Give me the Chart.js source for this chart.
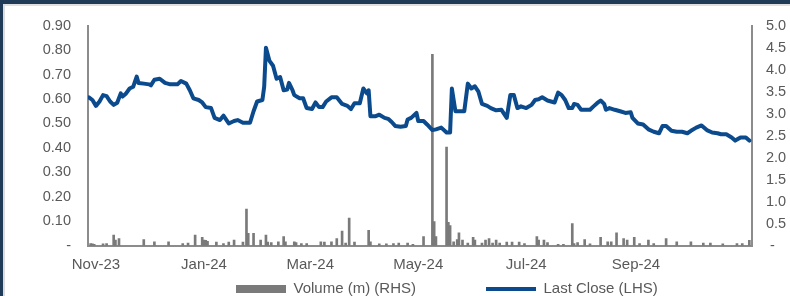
<!DOCTYPE html>
<html>
<head>
<meta charset="utf-8">
<script src="https://cdn.jsdelivr.net/npm/chart.js@4.4.1/dist/chart.umd.min.js"></script>
<style>
  html, body { margin: 0; padding: 0; background: #fff; overflow: hidden; }
  #frame { position: relative; width: 790px; height: 296px; background: #fff; }
  .edge { position: absolute; }
  .navy-top { left: 0; top: 0; right: 0; height: 4px; background: #203b58; }
  .navy-left { left: 0; top: 0; bottom: 0; width: 3px; background: #203b58; }
  .grey-top { left: 3px; top: 4px; right: 0; height: 2px; background: #e0e0e0; }
  .grey-left { left: 3px; top: 4px; bottom: 0; width: 2px; background: #dcdcdc; }
  #chart { position: absolute; left: 0; top: 0; }
</style>
</head>
<body>
<div id="frame">
  <div class="edge grey-top"></div>
  <div class="edge grey-left"></div>
  <div class="edge navy-top"></div>
  <div class="edge navy-left"></div>
  <canvas id="chart" width="790" height="296"></canvas>
</div>
<script>
// Last close (LHS, A$)
const priceDates = [
  '2023-10-28','2023-10-30','2023-11-01','2023-11-03','2023-11-05','2023-11-07','2023-11-09','2023-11-11',
  '2023-11-13','2023-11-15','2023-11-16','2023-11-18','2023-11-20','2023-11-22','2023-11-24','2023-11-25',
  '2023-11-28','2023-12-01','2023-12-02','2023-12-04','2023-12-07','2023-12-10','2023-12-13','2023-12-17',
  '2023-12-19','2023-12-22','2023-12-24','2023-12-26','2023-12-29','2023-12-31','2024-01-02','2024-01-05',
  '2024-01-07','2024-01-10','2024-01-12','2024-01-15','2024-01-18','2024-01-20','2024-01-23','2024-01-27',
  '2024-01-29','2024-01-31','2024-02-03','2024-02-04','2024-02-05','2024-02-07','2024-02-09','2024-02-11',
  '2024-02-13','2024-02-15','2024-02-17','2024-02-18','2024-02-20','2024-02-21','2024-02-24','2024-02-26',
  '2024-02-28','2024-03-02','2024-03-04','2024-03-06','2024-03-08','2024-03-10','2024-03-13','2024-03-16',
  '2024-03-19','2024-03-22','2024-03-24','2024-03-26','2024-03-29','2024-03-31','2024-04-02','2024-04-03',
  '2024-04-04','2024-04-07','2024-04-09','2024-04-12','2024-04-14','2024-04-16','2024-04-18','2024-04-21',
  '2024-04-24','2024-04-25','2024-04-27','2024-04-30','2024-05-01','2024-05-04','2024-05-06','2024-05-09',
  '2024-05-11','2024-05-14','2024-05-17','2024-05-19','2024-05-20','2024-05-22','2024-05-25','2024-05-27',
  '2024-05-29','2024-05-31','2024-06-02','2024-06-04','2024-06-06','2024-06-09','2024-06-11','2024-06-14',
  '2024-06-17','2024-06-20','2024-06-22','2024-06-24','2024-06-26','2024-06-28','2024-07-01','2024-07-04',
  '2024-07-06','2024-07-08','2024-07-10','2024-07-13','2024-07-15','2024-07-17','2024-07-19','2024-07-21',
  '2024-07-23','2024-07-25','2024-07-27','2024-07-28','2024-07-30','2024-08-01','2024-08-04','2024-08-06',
  '2024-08-08','2024-08-10','2024-08-12','2024-08-14','2024-08-15','2024-08-17','2024-08-20','2024-08-23',
  '2024-08-26','2024-08-29','2024-08-30','2024-09-02','2024-09-05','2024-09-08','2024-09-11','2024-09-14',
  '2024-09-16','2024-09-18','2024-09-21','2024-09-24','2024-09-27','2024-09-30','2024-10-02','2024-10-05',
  '2024-10-08','2024-10-11','2024-10-14','2024-10-17','2024-10-19','2024-10-22','2024-10-25','2024-10-27',
  '2024-10-30','2024-11-02','2024-11-04'
];
const priceValues = [
  0.607, 0.596, 0.572, 0.590, 0.616, 0.612, 0.590, 0.576,
  0.585, 0.623, 0.610, 0.623, 0.643, 0.650, 0.692, 0.666,
  0.663, 0.660, 0.656, 0.679, 0.683, 0.666, 0.660, 0.660,
  0.674, 0.663, 0.636, 0.603, 0.596, 0.586, 0.567, 0.563,
  0.523, 0.514, 0.532, 0.500, 0.510, 0.514, 0.503, 0.503,
  0.550, 0.590, 0.596, 0.650, 0.810, 0.756, 0.736, 0.683,
  0.690, 0.636, 0.639, 0.666, 0.636, 0.616, 0.603, 0.603,
  0.563, 0.559, 0.586, 0.567, 0.567, 0.590, 0.607, 0.607,
  0.580, 0.572, 0.559, 0.583, 0.583, 0.643, 0.623, 0.636,
  0.530, 0.530, 0.536, 0.523, 0.519, 0.506, 0.490, 0.487,
  0.490, 0.516, 0.523, 0.543, 0.510, 0.510, 0.496, 0.473,
  0.476, 0.483, 0.463, 0.463, 0.643, 0.550, 0.550, 0.550,
  0.663, 0.643, 0.652, 0.630, 0.580, 0.572, 0.563, 0.554,
  0.556, 0.523, 0.616, 0.616, 0.563, 0.570, 0.563, 0.576,
  0.596, 0.599, 0.607, 0.594, 0.590, 0.586, 0.626, 0.616,
  0.596, 0.563, 0.563, 0.580, 0.576, 0.556, 0.556, 0.556,
  0.570, 0.583, 0.594, 0.580, 0.556, 0.563, 0.556, 0.550,
  0.543, 0.546, 0.523, 0.500, 0.496, 0.476, 0.466, 0.460,
  0.490, 0.490, 0.470, 0.466, 0.466, 0.460, 0.470, 0.483,
  0.492, 0.473, 0.463, 0.460, 0.456, 0.456, 0.443, 0.430,
  0.443, 0.443, 0.430
];

// Volume in millions (RHS)
const volumeDates = [
  '2023-10-29','2023-10-30','2023-10-31','2023-11-05','2023-11-07','2023-11-11','2023-11-12','2023-11-14',
  '2023-11-28','2023-12-04','2023-12-12','2023-12-20','2023-12-23','2023-12-27','2023-12-31','2024-01-01',
  '2024-01-02','2024-01-03','2024-01-08','2024-01-12','2024-01-15','2024-01-18','2024-01-23','2024-01-25',
  '2024-01-26','2024-01-29','2024-02-02','2024-02-05','2024-02-06','2024-02-08','2024-02-12','2024-02-15',
  '2024-02-16','2024-02-21','2024-02-22','2024-02-25','2024-02-28','2024-03-07','2024-03-09','2024-03-13',
  '2024-03-16','2024-03-19','2024-03-21','2024-03-23','2024-03-26','2024-04-03','2024-04-04','2024-04-09',
  '2024-04-13','2024-04-17','2024-04-20','2024-04-25','2024-04-28','2024-05-04','2024-05-09','2024-05-10',
  '2024-05-11','2024-05-17','2024-05-18','2024-05-19','2024-05-21','2024-05-23','2024-05-24','2024-05-26',
  '2024-05-29','2024-06-01','2024-06-02','2024-06-06','2024-06-08','2024-06-10','2024-06-12','2024-06-14',
  '2024-06-16','2024-06-20','2024-06-23','2024-06-27','2024-06-30','2024-07-07','2024-07-08','2024-07-11',
  '2024-07-13','2024-07-19','2024-07-22','2024-07-27','2024-07-28','2024-07-30','2024-08-03','2024-08-06',
  '2024-08-12','2024-08-16','2024-08-18','2024-08-21','2024-08-25','2024-08-27','2024-08-31','2024-09-03',
  '2024-09-08','2024-09-11','2024-09-18','2024-09-24','2024-10-02','2024-10-09','2024-10-13','2024-10-20',
  '2024-10-28','2024-10-31','2024-11-04'
];
const volumeValues = [
  0.05, 0.04, 0.03, 0.04, 0.05, 0.24, 0.13, 0.16,
  0.14, 0.09, 0.09, 0.05, 0.06, 0.24, 0.19, 0.13,
  0.12, 0.10, 0.08, 0.05, 0.08, 0.13, 0.08, 0.83,
  0.28, 0.28, 0.13, 0.24, 0.08, 0.07, 0.09, 0.21,
  0.09, 0.09, 0.07, 0.05, 0.05, 0.09, 0.08, 0.09,
  0.16, 0.33, 0.06, 0.63, 0.08, 0.35, 0.09, 0.04,
  0.04, 0.05, 0.06, 0.06, 0.03, 0.21, 4.35, 0.55,
  0.21, 2.24, 0.53, 0.46, 0.09, 0.14, 0.29, 0.13,
  0.06, 0.19, 0.13, 0.06, 0.13, 0.16, 0.06, 0.13,
  0.06, 0.08, 0.08, 0.08, 0.05, 0.21, 0.13, 0.13,
  0.07, 0.03, 0.03, 0.50, 0.05, 0.07, 0.14, 0.04,
  0.19, 0.09, 0.09, 0.29, 0.16, 0.13, 0.19, 0.05,
  0.13, 0.05, 0.16, 0.09, 0.09, 0.06, 0.06, 0.04,
  0.05, 0.05, 0.12
];

// axes
const xMin = '2023-10-27T12:00:00Z';
const xMax = '2024-11-05T12:00:00Z';
const xTickDates = ['2023-11-01', '2024-01-01', '2024-03-01', '2024-05-01', '2024-07-01', '2024-09-01'];
const xTickLabels = ['Nov-23', 'Jan-24', 'Mar-24', 'May-24', 'Jul-24', 'Sep-24'];
const priceTickValues = [0, 0.1, 0.2, 0.3, 0.4, 0.5, 0.6, 0.7, 0.8, 0.9];
const priceTickLabels = ['-', '0.10', '0.20', '0.30', '0.40', '0.50', '0.60', '0.70', '0.80', '0.90'];
const volumeTickValues = [0, 0.5, 1, 1.5, 2, 2.5, 3, 3.5, 4, 4.5, 5];
const volumeTickLabels = [' -', '0.5', '1.0', '1.5', '2.0', '2.5', '3.0', '3.5', '4.0', '4.5', '5.0'];

const TEXT = '#595959';
const AXIS = '#8c8c8c';
const LEGEND_GAP = 70;

Chart.defaults.font.family = '"Liberation Sans", Arial, sans-serif';
Chart.defaults.color = TEXT;

// Excel-style manual legend placement
const legendPlacer = {
  id: 'legendPlacer',
  afterLayout(chart) {
    const lg = chart.legend;
    const pad = lg.options.labels.padding;
    lg.left = 236 - pad;
    lg.top = 289 - pad - 7.5;
  }
};

new Chart(document.getElementById('chart'), {
  type: 'bar',
  data: {
    datasets: [
      {
        type: 'line',
        label: 'Last Close (LHS)',
        data: priceDates.map((d, i) => ({ x: Date.parse(d), y: priceValues[i] })),
        yAxisID: 'yL',
        borderColor: '#0b4a8c',
        backgroundColor: '#0b4a8c',
        borderWidth: 4,
        borderCapStyle: 'round',
        borderJoinStyle: 'round',
        pointRadius: 0,
        pointStyle: 'line',
        tension: 0,
      },
      {
        type: 'bar',
        label: 'Volume (m) (RHS)',
        data: volumeDates.map((d, i) => ({ x: Date.parse(d), y: volumeValues[i] })),
        yAxisID: 'yR',
        backgroundColor: '#7a7a7a',
        borderWidth: 0,
        barThickness: 2,
        pointStyle: 'rect',
      },
    ],
  },
  options: {
    responsive: false,
    animation: false,
    layout: { padding: { top: 21, left: 0, right: 0, bottom: 0 } },
    scales: {
      x: {
        type: 'linear',
        min: Date.parse(xMin),
        max: Date.parse(xMax),
        offset: false,
        grid: { display: false, drawTicks: false },
        border: { display: true, color: AXIS, width: 2 },
        afterBuildTicks: (scale) => { scale.ticks = xTickDates.map((d) => ({ value: Date.parse(d) })); },
        afterFit: (scale) => { scale.height = 32; },
        ticks: {
          autoSkip: false,
          maxRotation: 0,
          padding: 10,
          color: TEXT,
          font: { size: 15 },
          callback: (value, index) => xTickLabels[index],
        },
      },
      yL: {
        position: 'left',
        min: 0,
        max: 0.9,
        grid: { display: false, drawTicks: false },
        border: { display: true, color: AXIS, width: 2 },
        afterBuildTicks: (scale) => { scale.ticks = priceTickValues.map((v) => ({ value: v })); },
        afterFit: (scale) => { scale.width = 88; },
        ticks: {
          padding: 17,
          color: TEXT,
          font: { size: 14.5 },
          callback: (value, index) => priceTickLabels[index],
        },
      },
      yR: {
        position: 'right',
        min: 0,
        max: 5,
        grid: { display: false, drawTicks: false },
        border: { display: true, color: AXIS, width: 2 },
        afterBuildTicks: (scale) => { scale.ticks = volumeTickValues.map((v) => ({ value: v })); },
        afterFit: (scale) => { scale.width = 38; },
        ticks: {
          padding: 14,
          color: TEXT,
          font: { size: 14.5 },
          callback: (value, index) => volumeTickLabels[index],
        },
      },
    },
    plugins: {
      legend: {
        position: 'bottom',
        align: 'start',
        maxHeight: 18.3,
        labels: {
          usePointStyle: true,
          pointStyleWidth: 50,
          boxHeight: 8,
          padding: LEGEND_GAP,
          color: TEXT,
          font: { size: 15 },
          sort: (a, b) => b.datasetIndex - a.datasetIndex,
        },
      },
      tooltip: { enabled: false },
    },
  },
  plugins: [legendPlacer],
});
</script>
</body>
</html>
